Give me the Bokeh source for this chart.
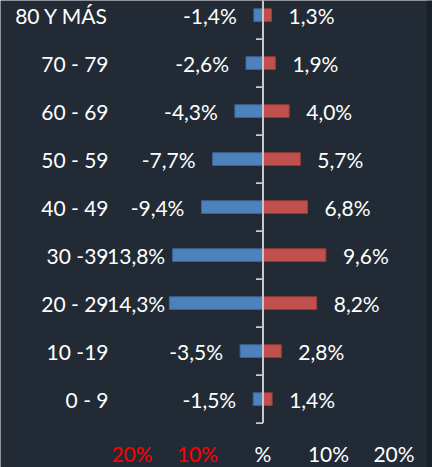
from bokeh.plotting import figure
from bokeh.models import ColumnDataSource, Range1d, BoxAnnotation
from bokeh.core.properties import value
from bokeh.embed import file_html
from bokeh.resources import INLINE

# ---- data ----
groups = ["0 - 9", "10 -19", "20 - 29", "30 -39", "40 - 49",
          "50 - 59", "60 - 69", "70 - 79", "80 Y MÁS"]
men = [-1.5, -3.5, -14.3, -13.8, -9.4, -7.7, -4.3, -2.6, -1.4]
women = [1.4, 2.8, 8.2, 9.6, 6.8, 5.7, 4.0, 1.9, 1.3]
xticks = [-20, -10, 0, 10, 20]
xtick_labels = ["20%", "10%", "%", "10%", "20%"]

BG = "#222b35"
FONT = "Lato"
FS = "21px"
PX = 6.55      # pixels per percent unit
X0 = 262.5     # pixel of zero
ROW = 48.0     # pixels per category
Y0 = 398.6     # pixel of first category centre
W, H = 432, 467

def fmt(v):
    return ("%.1f%%" % v).replace(".", ",")

ypos = list(range(len(groups)))

p = figure(width=W, height=H, output_backend="svg", toolbar_location=None,
           x_range=Range1d(-X0 / PX, (W - X0) / PX),
           y_range=Range1d((Y0 - H) / ROW, Y0 / ROW),
           min_border=0, background_fill_color=BG, border_fill_color=BG,
           outline_line_color=None)
p.axis.visible = False
p.grid.visible = False

# darker strip at the right border of the chart area
p.add_layout(BoxAnnotation(left=25, fill_color="#1b2129", fill_alpha=1.0,
                           line_color=None, level="underlay"))

# bars
p.hbar(y=ypos, right=men, left=0, height=0.265,
       fill_color="#4f81bd", line_color="#3a6496", line_width=1)
p.hbar(y=ypos, right=women, left=0, height=0.265,
       fill_color="#c0504d", line_color="#9a3b38", line_width=1)

# category axis line at zero with ticks between categories
p.segment(x0=[0], y0=[-0.5], x1=[0], y1=[len(groups) - 0.5],
          line_color="#c8c8c8", line_width=2)
bounds = [i - 0.5 for i in range(len(groups))]
p.segment(x0=[-7 / PX] * len(bounds), y0=bounds, x1=[0] * len(bounds), y1=bounds,
          line_color="#c8c8c8", line_width=1.6)

# category labels (left)
cat_edge = (108 - X0) / PX
p.text(x=[cat_edge] * len(groups), y=ypos, text=groups,
       text_align="right", text_baseline="middle",
       text_font=value(FONT), text_font_size=FS, text_color="#ffffff")

# value labels
plot_left = -25
gap = 17 / PX
neg_x, neg_align = [], []
for v in men:
    est_w = len(fmt(v)) * 10.5 / PX
    if v - gap - est_w < plot_left:
        neg_x.append(plot_left)
        neg_align.append("left")
    else:
        neg_x.append(v - gap)
        neg_align.append("right")
src_neg = ColumnDataSource(dict(x=neg_x, y=ypos, t=[fmt(v) for v in men], a=neg_align))
p.text(x="x", y="y", text="t", text_align="a", source=src_neg,
       text_baseline="middle", text_font=value(FONT), text_font_size=FS,
       text_color="#ffffff")
p.text(x=[v + gap for v in women], y=ypos, text=[fmt(v) for v in women],
       text_align="left", text_baseline="middle",
       text_font=value(FONT), text_font_size=FS, text_color="#ffffff")

# x tick labels (bottom)
tick_colors = ["#ff0000" if t < 0 else "#ffffff" for t in xticks]
p.text(x=xticks, y=[(Y0 - 453) / ROW] * len(xticks), text=xtick_labels,
       text_color=tick_colors, text_align="center", text_baseline="middle",
       text_font=value(FONT), text_font_size=FS)

open("out.html", "w").write(file_html(p, INLINE))
